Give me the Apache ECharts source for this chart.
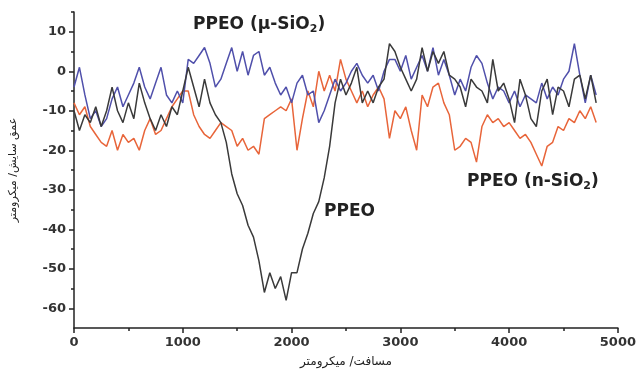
<!DOCTYPE html>
<html>
<head>
<meta charset="utf-8">
<script src="https://cdn.jsdelivr.net/npm/echarts@6/dist/echarts.min.js"></script>
<style>
  html, body { margin: 0; padding: 0; background: #fff; }
  #chart { width: 639px; height: 373px; }
</style>
</head>
<body>
<div id="chart"></div>
<script>
// عمق سایش در برابر مسافت - سه نمونه
var step = 50; // فاصله نمونه ها (میکرومتر)

var blackVals = [-10, -15, -11, -13, -9, -14, -10, -4, -10, -13,
    -8, -12, -3, -8, -12, -15, -11, -14, -9, -11,
    -5, 1, -4, -9, -2, -8, -11, -13, -18, -26,
    -31, -34, -39, -42, -48, -56, -51, -55, -52, -58,
    -51, -51, -45, -41, -36, -33, -27, -19, -8, -2,
    -6, -3, 1, -8, -5, -8, -4, -2, 7, 5,
    1, -2, -5, -2, 6, 0, 5, 2, 5, -1,
    -2, -4, -9, -2, -4, -5, -8, 3, -5, -3,
    -7, -13, -2, -6, -12, -14, -5, -2, -11, -4,
    -5, -9, -2, -1, -7, -1, -8];

var blueVals = [-4, 1, -6, -12, -10, -14, -12, -7, -4, -9,
    -6, -3, 1, -4, -7, -3, 1, -6, -8, -5,
    -8, 3, 2, 4, 6, 2, -4, -2, 2, 6,
    0, 5, -1, 4, 5, -1, 1, -3, -6, -4,
    -8, -3, -1, -6, -5, -13, -10, -6, -2, -5,
    -3, 0, 2, -1, -3, -1, -5, 0, 3, 3,
    0, 4, -2, 1, 4, 0, 6, -1, 3, -1,
    -6, -2, -5, 1, 4, 2, -3, -7, -4, -5,
    -8, -5, -9, -6, -7, -8, -3, -7, -4, -6,
    -2, 0, 7, -1, -8, -1, -6];

var redVals = [-8, -11, -9, -14, -16, -18, -19, -15, -20, -16,
    -18, -17, -20, -15, -12, -16, -15, -12, -9, -7,
    -5, -5, -11, -14, -16, -17, -15, -13, -14, -15,
    -19, -17, -20, -19, -21, -12, -11, -10, -9, -10,
    -7, -20, -12, -5, -9, 0, -5, -1, -5, 3,
    -2, -5, -8, -5, -9, -6, -4, -7, -17, -10,
    -12, -9, -15, -20, -6, -9, -4, -3, -8, -11,
    -20, -19, -17, -18, -23, -14, -11, -13, -12, -14,
    -13, -15, -17, -16, -18, -21, -24, -19, -18, -14,
    -15, -12, -13, -10, -12, -9, -13];

var yMajor = [-60, -50, -40, -30, -20, -10, 0, 10];
var yMinor = [-55, -45, -35, -25, -15, -5, 5, 15];

function pairs(vals) {
    var out = [];
    for (var i = 0; i < vals.length; i++) {
        out.push([i * step, vals[i]]);
    }
    return out;
}

var chart = echarts.init(document.getElementById('chart'));

var tickFont = {
    color: '#333',
    fontFamily: 'DejaVu Sans',
    fontWeight: 'bold',
    fontSize: 13
};

var option = {
    animation: false,
    grid: { left: 71, right: 20, top: 12, bottom: 45 },
    xAxis: {
        type: 'value',
        min: 0,
        max: 5000,
        interval: 1000,
        name: 'مسافت/ میکرومتر',
        nameLocation: 'middle',
        nameGap: 28,
        nameTextStyle: { color: '#222', fontFamily: 'DejaVu Sans', fontSize: 12 },
        axisLine: { onZero: false, lineStyle: { color: '#222', width: 1.5 } },
        axisTick: { length: 5, lineStyle: { color: '#222', width: 1.5 } },
        minorTick: { show: true, splitNumber: 2, length: 3, lineStyle: { color: '#222', width: 1.5 } },
        axisLabel: Object.assign({ margin: 8, formatter: function (v) { return String(v); } }, tickFont),
        splitLine: { show: false }
    },
    yAxis: [{
        type: 'value',
        min: -65,
        max: 15,
        name: 'عمق سایش/ میکرومتر',
        nameLocation: 'middle',
        nameGap: 55,
        nameTextStyle: { color: '#222', fontFamily: 'DejaVu Sans', fontSize: 11 },
        axisLine: { show: true, onZero: false, lineStyle: { color: '#222', width: 1.5 } },
        axisTick: { show: true, length: 5, customValues: yMajor, lineStyle: { color: '#222', width: 1.5 } },
        axisLabel: Object.assign({ margin: 8, customValues: yMajor }, tickFont),
        splitLine: { show: false }
    }, {
        type: 'value',
        position: 'left',
        min: -65,
        max: 15,
        axisLine: { show: false, onZero: false },
        axisTick: { show: true, length: 3, customValues: yMinor, lineStyle: { color: '#222', width: 1.5 } },
        axisLabel: { show: false },
        splitLine: { show: false }
    }],
    series: [{
        name: 'PPEO (n-SiO2)',
        type: 'line',
        data: pairs(redVals),
        showSymbol: false,
        lineStyle: { color: '#e8653a', width: 1.5 }
    }, {
        name: 'PPEO (μ-SiO2)',
        type: 'line',
        data: pairs(blueVals),
        showSymbol: false,
        lineStyle: { color: '#5050ab', width: 1.5 }
    }, {
        name: 'PPEO',
        type: 'line',
        data: pairs(blackVals),
        showSymbol: false,
        lineStyle: { color: '#3a3a3a', width: 1.5 }
    }],
    graphic: [{
        type: 'text', left: 193, top: 16,
        style: {
            text: '{a|PPEO (μ-SiO}{s|2}{a|)}',
            rich: {
                a: { fontSize: 17, fontWeight: 'bold', fontFamily: 'DejaVu Sans', fill: '#222' },
                s: { fontSize: 11, fontWeight: 'bold', fontFamily: 'DejaVu Sans', fill: '#222', padding: [10, 0, 0, 0] }
            }
        }
    }, {
        type: 'text', left: 467, top: 173,
        style: {
            text: '{a|PPEO (n-SiO}{s|2}{a|)}',
            rich: {
                a: { fontSize: 17, fontWeight: 'bold', fontFamily: 'DejaVu Sans', fill: '#222' },
                s: { fontSize: 11, fontWeight: 'bold', fontFamily: 'DejaVu Sans', fill: '#222', padding: [10, 0, 0, 0] }
            }
        }
    }, {
        type: 'text', left: 324, top: 203,
        style: { text: 'PPEO', fontSize: 17, fontWeight: 'bold', fontFamily: 'DejaVu Sans', fill: '#222' }
    }]
};

chart.setOption(option);
</script>
</body>
</html>
